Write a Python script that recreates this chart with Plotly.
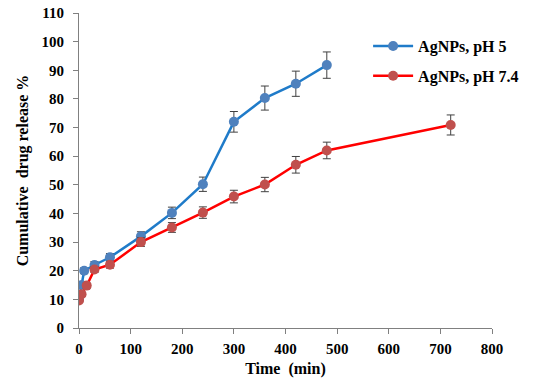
import plotly.graph_objects as go

time_ph5 = [0, 5, 10, 30, 60, 120, 180, 240, 300, 360, 420, 480]
release_ph5 = [10, 15, 20, 22, 24.7, 32, 40.2, 50.2, 72, 80.3, 85.3, 91.8]
err_ph5 = [0.8, 1, 1, 1.2, 1.3, 1.6, 2, 2.5, 3.6, 4.2, 4.4, 4.6]

time_ph74 = [0, 5, 15, 30, 60, 120, 180, 240, 300, 360, 420, 480, 720]
release_ph74 = [9.6, 11.8, 14.8, 20.4, 22.1, 30, 35.1, 40.3, 45.9, 50.1, 57, 62, 70.9]
err_ph74 = [0.6, 0.8, 0.9, 1, 1.2, 1.5, 1.7, 2, 2.2, 2.5, 2.9, 2.9, 3.5]

x_ticks = [0, 100, 200, 300, 400, 500, 600, 700, 800]
y_ticks = [0, 10, 20, 30, 40, 50, 60, 70, 80, 90, 100, 110]

FONT = "Liberation Serif"

fig = go.Figure()
fig.add_trace(go.Scatter(
    x=time_ph5, y=release_ph5, name="AgNPs, pH 5", mode="lines+markers",
    legendgroup="a",
    line=dict(color="#1f7bc9", width=2.5),
    marker=dict(color="#4f81bd", size=10),
    error_y=dict(type="data", array=err_ph5, color="#404040", thickness=1, width=4),
))
fig.add_trace(go.Scatter(
    x=time_ph74, y=release_ph74, name="AgNPs, pH 7.4", mode="lines+markers",
    legendgroup="b",
    line=dict(color="#ff0000", width=2.5),
    marker=dict(color="#c0504d", size=10),
    error_y=dict(type="data", array=err_ph74, color="#404040", thickness=1, width=4),
))

fig.update_layout(
    width=541, height=383,
    margin=dict(l=79, r=49, t=13, b=55),
    paper_bgcolor="white", plot_bgcolor="white",
    font=dict(family=FONT, color="black"),
    legend=dict(x=0.70, y=0.949, xanchor="left", yanchor="top",
                font=dict(family=FONT, size=16, color="black", weight="bold"),
                bgcolor="rgba(0,0,0,0)", tracegroupgap=6, itemwidth=40),
    xaxis=dict(range=[0, 800], tickvals=x_ticks, showgrid=False, zeroline=False,
               showline=True, linecolor="#808080", linewidth=1, automargin=False,
               ticks="outside", ticklen=5, tickcolor="#808080", ticklabelstandoff=2,
               ticklabeloverflow="allow",
               tickfont=dict(family=FONT, size=15, weight="bold"),
               title=dict(text="Time  (min)", font=dict(family=FONT, size=16, weight="bold"), standoff=6)),
    yaxis=dict(range=[0, 110], tickvals=y_ticks, showgrid=False, zeroline=False,
               showline=True, linecolor="#808080", linewidth=1, automargin=False,
               ticks="outside", ticklen=5, tickcolor="#808080", ticklabelstandoff=6,
               ticklabeloverflow="allow",
               tickfont=dict(family=FONT, size=15, weight="bold"),
               title=dict(text="Cumulative  drug release %", font=dict(family=FONT, size=16, weight="bold"), standoff=8)),
)

fig.write_html("out.html", config={"displayModeBar": False},
               post_script="document.body.style.margin='0';")
